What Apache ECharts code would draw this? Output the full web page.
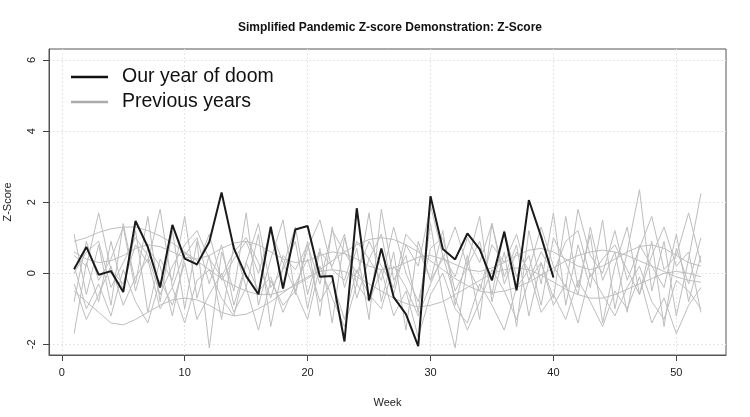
<!DOCTYPE html>
<html><head><meta charset="utf-8">
<script src="https://cdn.jsdelivr.net/npm/echarts@6/dist/echarts.min.js"></script>
<style>html,body{margin:0;padding:0;background:#fff}#c{width:750px;height:417px}</style>
</head><body><div id="c"></div>
<script>
const weeks = Array.from({length:52},(_,i)=>i+1);
const xTicks = [0,10,20,30,40,50];
const yTicks = [-2,0,2,4,6];
const doomYear = [0.11,0.74,-0.04,0.06,-0.53,1.47,0.74,-0.4,1.36,0.41,0.25,0.88,2.27,0.7,-0.08,-0.59,1.31,-0.43,1.23,1.33,-0.1,-0.08,-1.92,1.83,-0.76,0.7,-0.67,-1.15,-2.05,2.17,0.68,0.39,1.12,0.68,-0.2,1.17,-0.48,2.06,1.03,-0.12];
const prev1 = [1.1,-0.6,0.8,-0.9,1.4,-0.3,1.6,-0.8,1.2,-1.0,0.9,-2.1,0.6,-0.5,1.7,-0.9,0.4,1.5,-0.6,0.9,-1.2,1.3,-0.4,0.7,-1.3,1.8,-0.2,0.5,-1.1,1.4,-0.7,-2.1,0.3,1.6,-0.8,0.6,-1.5,1.2,-0.3,1.7,-0.9,0.8,-0.4,1.5,-1.0,0.6,2.35,-0.5,0.9,-1.2,0.4,2.25];
const prev2 = [-1.7,0.3,-0.8,0.9,-0.5,1.2,-1.1,0.4,-0.2,1.6,-0.7,0.5,-1.3,0.8,-0.4,1.1,-1.5,0.2,1.3,-0.6,0.7,-1.4,1.0,-0.3,1.7,-0.8,0.6,-1.6,0.9,-0.2,1.2,-0.9,0.5,-1.3,1.4,-0.1,0.8,-1.2,0.3,-0.7,1.6,-0.4,1.1,-1.4,0.2,1.3,-0.6,0.9,-1.5,0.7,-0.3,1.0];
const prev3 = [0.9,1.0,1.15,1.25,1.3,1.3,1.2,1.05,0.85,0.6,0.35,0.1,-0.15,-0.35,-0.5,-0.6,-0.6,-0.5,-0.35,-0.15,0.1,0.35,0.6,0.8,0.95,1.0,0.95,0.8,0.6,0.35,0.1,-0.15,-0.35,-0.5,-0.55,-0.5,-0.4,-0.25,-0.05,0.15,0.35,0.5,0.6,0.65,0.6,0.5,0.35,0.2,0.05,-0.1,-0.2,-0.25];
const prev4 = [-0.5,-0.8,-1.1,-1.4,-1.45,-1.3,-1.1,-0.9,-0.75,-0.7,-0.75,-0.9,-1.1,-1.2,-1.15,-1.0,-0.8,-0.55,-0.3,-0.1,0.05,0.1,0.05,-0.1,-0.3,-0.5,-0.7,-0.85,-0.95,-0.9,-0.8,-0.6,-0.4,-0.2,0.0,0.1,0.15,0.1,-0.05,-0.25,-0.45,-0.6,-0.7,-0.7,-0.6,-0.45,-0.3,-0.15,0.0,0.05,0.0,-0.1];
const prev5 = [0.5,0.2,1.7,0.1,-0.3,0.8,0.3,1.8,-0.4,0.6,0.2,1.1,-0.2,0.4,0.9,0.0,1.2,0.3,-0.5,0.7,1.5,0.1,-0.2,0.9,0.4,1.1,-0.6,0.8,0.2,1.9,0.5,-0.1,1.0,0.3,1.4,-0.3,0.6,0.1,1.3,0.2,-0.4,1.8,0.5,0.0,1.2,-0.2,0.7,1.6,0.1,0.5,1.7,0.3];
const prev6 = [0.2,-1.0,-0.3,-1.2,0.1,-0.8,-1.4,-0.2,-0.9,0.3,-1.3,-0.6,0.0,-1.1,-0.4,-1.6,-0.2,-0.9,-0.5,-1.3,0.2,-0.7,-1.5,-0.3,-0.8,0.1,-1.2,-0.5,-1.8,-0.6,0.0,-1.0,-1.4,-0.3,-0.9,-1.6,-0.4,0.1,-1.1,-0.6,-1.3,-0.2,-0.8,-1.5,-0.5,-1.0,-0.1,-1.4,-0.7,-1.7,-0.9,-0.4];
const prev7 = [0.6,0.4,0.3,0.35,0.5,0.7,0.8,0.75,0.6,0.45,0.4,0.5,0.7,0.85,0.9,0.8,0.6,0.4,0.3,0.35,0.5,0.6,0.55,0.4,0.2,0.1,0.15,0.3,0.45,0.5,0.4,0.25,0.1,0.05,0.15,0.3,0.5,0.65,0.7,0.6,0.4,0.2,0.1,0.2,0.4,0.6,0.75,0.8,0.7,0.5,0.3,0.2];
const prev8 = [-0.8,0.9,-0.2,0.4,1.3,-0.5,0.7,0.2,-1.2,0.5,1.0,-0.3,0.8,-0.9,0.3,1.4,-0.4,0.1,0.9,-1.0,0.6,0.2,1.1,-0.7,0.4,-0.2,1.3,0.0,-0.8,0.7,1.0,-0.5,0.2,0.9,-0.6,1.2,-0.1,0.5,-0.9,1.0,0.3,-0.6,1.3,-0.2,0.6,-1.1,0.8,0.2,-0.4,1.1,-0.8,0.5];
const prev9 = [0.0,0.6,0.9,-0.4,0.3,1.0,0.5,-0.6,0.2,0.8,1.2,0.4,-0.1,0.6,1.0,0.3,-0.7,0.5,0.1,0.8,-0.3,1.2,0.6,0.0,0.9,0.2,-0.4,1.1,0.7,-0.2,0.4,1.3,0.2,-0.5,0.8,0.3,1.1,-0.2,0.6,0.0,0.9,1.2,-0.1,0.4,0.8,0.1,-0.6,0.5,1.3,0.2,0.6,-1.1];
const prev10 = [-0.3,-1.3,-0.6,0.2,-0.9,-0.1,0.4,-1.0,-0.4,-1.4,-0.2,0.1,-0.7,-1.2,0.3,-0.5,-0.1,-1.1,-0.3,0.4,-0.8,-0.2,-1.3,0.1,-0.6,-1.0,0.2,-0.4,-1.2,-0.3,0.5,-0.7,-1.6,-0.8,0.1,-0.5,-1.3,-0.2,0.3,-0.9,-0.3,-1.4,0.0,-0.6,-1.2,-0.4,0.2,-0.8,-1.3,-0.2,-0.5,-1.0];
const previousYears = [prev1,prev2,prev3,prev4,prev5,prev6,prev7,prev8,prev9,prev10];

const FONT = "'Liberation Sans', Arial, Helvetica, sans-serif";
const chart = echarts.init(document.getElementById('c'), null, {renderer:'canvas'});
const pair = arr => arr.map((v,i)=>[weeks[i], v]);
const series = previousYears.map(arr => ({
  name:'Previous years', type:'line', data:pair(arr), symbol:'none',
  itemStyle:{color:'#bdbdbd'}, lineStyle:{color:'#bdbdbd', width:1}, z:2, silent:true
}));
series.push({
  name:'Our year of doom', type:'line', data:pair(doomYear), symbol:'none',
  itemStyle:{color:'#1a1a1a'}, lineStyle:{color:'#1a1a1a', width:2}, z:3, silent:true
});
const gridLine = {show:true, lineStyle:{color:'#e6e6e6', width:1, type:[2,2]}};
const axisLn = {show:true, onZero:false, lineStyle:{color:'#555', width:1}};
chart.setOption({
  animation:false,
  title:{text:'Simplified Pandemic Z-score Demonstration: Z-Score', left:385, top:17, textAlign:'center',
    textStyle:{fontFamily:FONT, fontSize:12, fontWeight:'bold', color:'#111'}},
  grid:{left:49, top:49, right:24, bottom:62, containLabel:false, outerBoundsMode:'none',
    show:true, borderColor:'#555', borderWidth:1, backgroundColor:'transparent'},
  legend:{
    orient:'vertical', left:66, top:62, itemWidth:37, itemHeight:2.5, itemGap:5, icon:'rect',
    data:[{name:'Our year of doom', itemStyle:{color:'#111'}}, {name:'Previous years', itemStyle:{color:'#aaaaaa'}}],
    textStyle:{fontFamily:FONT, fontSize:19.5, color:'#111', lineHeight:20, padding:[0,0,0,9]},
    selectedMode:false
  },
  xAxis:{type:'value', min:-1.04, max:54.04, name:'Week', nameLocation:'middle', nameGap:42,
    nameTextStyle:{fontFamily:FONT, fontSize:11, color:'#222'},
    axisLine:axisLn,
    axisTick:{show:true, inside:false, length:6, customValues:xTicks, lineStyle:{color:'#444', width:1}},
    axisLabel:{customValues:xTicks, fontFamily:FONT, fontSize:11, color:'#222', margin:12},
    splitLine:gridLine},
  yAxis:{type:'value', min:-2.30, max:6.31, name:'Z-Score', nameLocation:'middle', nameGap:36, nameRotate:90,
    nameTextStyle:{fontFamily:FONT, fontSize:11, color:'#222'},
    axisLine:axisLn,
    axisTick:{show:true, inside:false, length:6, customValues:yTicks, lineStyle:{color:'#444', width:1}},
    axisLabel:{customValues:yTicks, rotate:90, fontFamily:FONT, fontSize:11, color:'#222', margin:12},
    splitLine:gridLine},
  series:series
});
</script></body></html>
